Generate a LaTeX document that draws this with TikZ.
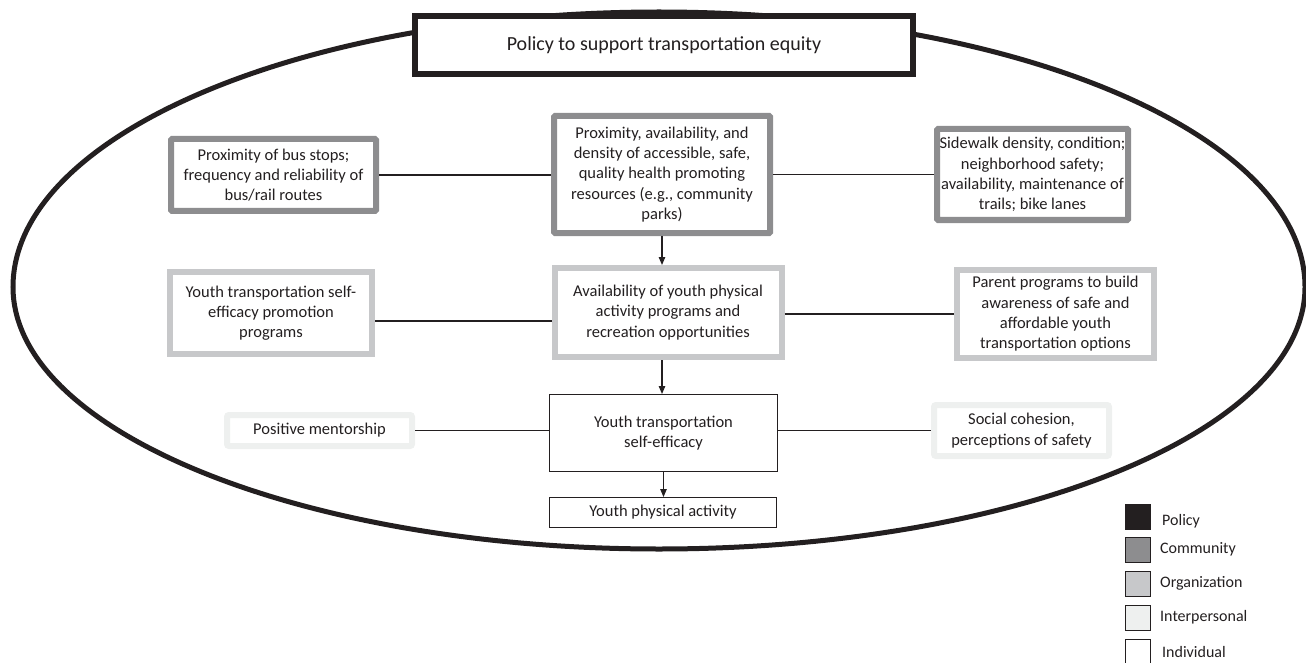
\documentclass[tikz,border=0pt]{standalone}
\usepackage{fontspec}
\setmainfont{Carlito}
\usetikzlibrary{arrows.meta}

\definecolor{inkc}{HTML}{231F20}
\definecolor{commc}{HTML}{8D8D8F}
\definecolor{orgc}{HTML}{C7C8CA}
\definecolor{interc}{HTML}{EEF0EF}

\tikzset{
  box/.style={rectangle, fill=white, align=center, inner sep=2pt, text=inkc,
              font=\fontsize{16.5}{20.3}\selectfont},
  policybox/.style={box, draw=inkc, line width=6pt, font=\fontsize{20}{24}\selectfont},
  commbox/.style={box, draw=commc, line width=6pt, rounded corners=1pt},
  orgbox/.style={box, draw=orgc, line width=6pt},
  interbox/.style={box, draw=interc, line width=6pt, rounded corners=2pt},
  indivbox/.style={box, draw=inkc, line width=1pt},
  link/.style={draw=inkc, line width=1.1pt},
  flow/.style={link, -{Triangle[length=8pt,width=6.5pt]}},
  swatch/.style={rectangle, draw=inkc, line width=1.4pt, minimum size=25pt, inner sep=0pt},
  keylabel/.style={anchor=west, inner sep=0pt, text=inkc, font=\fontsize{16}{19}\selectfont},
}

\begin{document}
\begin{tikzpicture}[x=1pt, y=-1pt]
  \useasboundingbox (0,0) rectangle (1306,663);

  % outer ring enclosing all levels: a little taller above than below
  \draw[inkc, line width=5pt]
    (13,287) arc[start angle=180, end angle=360, x radius=646, y radius=275]
             arc[start angle=0, end angle=180, x radius=646, y radius=262] -- cycle;

  % policy level
  \node[policybox, minimum width=498pt, minimum height=58pt] (policy) at (664,45)
    {Policy to support transportation equity};

  % community level
  \node[commbox, minimum width=205pt, minimum height=72pt] (cl) at (273.5,175)
    {Proximity of bus stops;\\ frequency and reliability of\\ bus/rail routes};
  \node[commbox, minimum width=216pt, minimum height=117pt] (cc) at (662,174.5)
    {Proximity, availability, and\\ density of accessible, safe,\\ quality health promoting\\ resources (e.g., community\\ parks)};
  \node[commbox, minimum width=191pt, minimum height=91pt] (cr) at (1032.5,174.5)
    {Sidewalk density, condition;\\ neighborhood safety;\\ availability, maintenance of\\ trails; bike lanes};

  % organization level
  \node[orgbox, minimum width=202pt, minimum height=82pt] (ol) at (271,313)
    {Youth transportation self-\\ efficacy promotion\\ programs};
  \node[orgbox, minimum width=227pt, minimum height=89pt] (oc) at (668,312.5)
    {Availability of youth physical\\ activity programs and\\ recreation opportunities};
  \node[orgbox, minimum width=197pt, minimum height=88pt] (or) at (1055.5,314)
    {Parent programs to build\\ awareness of safe and\\ affordable youth\\ transportation options};

  % interpersonal and individual levels
  \node[interbox, minimum width=185pt, minimum height=31pt] (il) at (319.5,430.5)
    {Positive mentorship};
  \node[indivbox, minimum width=228pt, minimum height=77pt] (ic) at (663.5,433)
    {Youth transportation\\ self-efficacy};
  \node[interbox, minimum width=175pt, minimum height=51pt] (ir) at (1021.5,430.5)
    {Social cohesion,\\ perceptions of safety};
  \node[indivbox, minimum width=227pt, minimum height=30pt] (pa) at (663,512.5)
    {Youth physical activity};

  % horizontal links
  \draw[link] (cl.east) -- (cl.east -| cc.west);
  \draw[link] (cc.east) -- (cc.east -| cr.west);
  \draw[link] ([yshift=-8pt]ol.east) -- ([yshift=-8pt]ol.east -| oc.west);
  \draw[link] (oc.east |- or.west) -- (or.west);
  \draw[link] (il.east) -- (il.east -| ic.west);
  \draw[link] (ic.east |- ir.west) -- (ir.west);

  % vertical flow
  \draw[flow] (cc.south) -- (cc.south |- oc.north);
  \draw[flow] (cc.south |- oc.south) -- (cc.south |- ic.north);
  \draw[flow] (ic.south) -- (ic.south |- pa.north);

  % key
  \node[swatch, fill=inkc]   (k1) at (1138,517) {};
  \node[swatch, fill=commc]  (k2) at (1138,550) {};
  \node[swatch, fill=orgc]   (k3) at (1138,584) {};
  \node[swatch, fill=interc] (k4) at (1138,618) {};
  \node[swatch, fill=white]  (k5) at (1138,652) {};
  \node[keylabel] (t1) at (1162,521) {Policy};
  \node[keylabel] (t2) at (1160,549) {Community};
  \node[keylabel] (t3) at (1160,583) {Organization};
  \node[keylabel] (t4) at (1160,617) {Interpersonal};
  \node[keylabel] (t5) at (1162,652) {Individual};
\end{tikzpicture}
\end{document}
